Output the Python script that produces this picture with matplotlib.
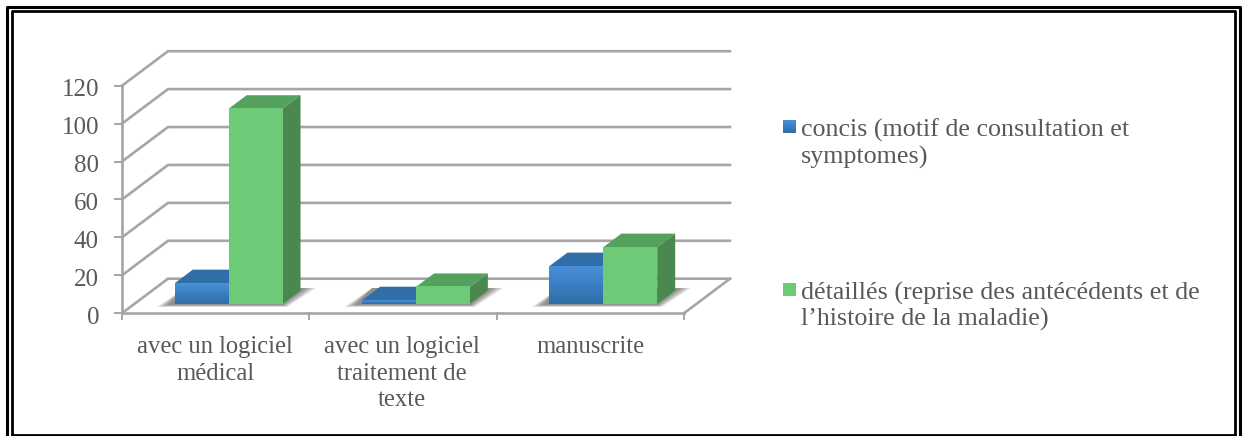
import numpy as np
import matplotlib
matplotlib.use("Agg")
import matplotlib.pyplot as plt
from matplotlib.patches import Polygon
from matplotlib.colors import LinearSegmentedColormap

categories = ["avec un logiciel\nmédical", "avec un logiciel\ntraitement de\ntexte", "manuscrite"]
series_names = ["concis (motif de consultation et\nsymptomes)",
                "détaillés (reprise des antécédents et de\nl’histoire de la maladie)"]
concis = [11, 2, 20]
detailles = [103, 9, 30]
y_ticks = [0, 20, 40, 60, 80, 100, 120]

W, H = 1245, 436
FONT = "Liberation Serif"
TEXT = "#595959"
GRID = "#a6a6a6"

fig = plt.figure(figsize=(W / 100, H / 100), dpi=100, facecolor="white")
page = fig.add_axes([0, 0, 1, 1])
page.set_xlim(0, W)
page.set_ylim(H, 0)
page.axis("off")

# double frame around the chart: the outer one runs off the bottom edge
page.plot([7, 7, 1240, 1240], [445, 7, 7, 445], color="black", lw=2.2, solid_joinstyle="round")
page.plot([11.5, 11.5, 1235, 1235], [435, 11.5, 11.5, 435], color="black", lw=2.0)
page.plot([11.5, 1235], [435, 435], color="black", lw=2.0)

# front plane of the plot box: x in categories, y in values
X0, X1, Y0, Y120 = 122, 684, 313.2, 85.7
ax = fig.add_axes([X0 / W, 1 - Y0 / H, (X1 - X0) / W, (Y0 - Y120) / H])
ax.set_xlim(0, 3)
ax.set_ylim(0, 120)
ax.axis("off")
ux = 3 / (X1 - X0)
uy = 120 / (Y0 - Y120)

# oblique depth, in pixels, converted to data units
def dx(px):
    return px * ux

def dy(px):
    return px * uy

BOX_DX, BOX_DY = 46, 34.5
BAR_DX, BAR_DY = 18, 13.5
BAR_W = 0.2875
SHIFT_X, SHIFT_Y = 13, 9.2

# gridlines on the side and back walls
for v in y_ticks:
    ax.plot([0, dx(BOX_DX), 3 + dx(BOX_DX)], [v, v + dy(BOX_DY), v + dy(BOX_DY)],
            color=GRID, lw=1.9, clip_on=False, solid_joinstyle="miter", zorder=1)
# floor and front axis
ax.plot([3, 3 + dx(BOX_DX)], [0, dy(BOX_DY)], color=GRID, lw=1.9, clip_on=False, zorder=1)
ax.plot([0, 3], [0, 0], color=GRID, lw=1.9, clip_on=False, zorder=1)
ax.plot([0, 0], [0, 120], color=GRID, lw=1.9, clip_on=False, zorder=1)
for v in y_ticks:
    ax.plot([-dx(7), 0], [v, v], color=GRID, lw=1.4, clip_on=False, zorder=1)
for i in range(4):
    ax.plot([i, i], [0, -dy(6)], color=GRID, lw=1.4, clip_on=False, zorder=1)

for v in y_ticks:
    ax.text(-dx(23), v - dy(4.5), str(v), ha="right", va="center", family=FONT,
            fontsize=18, color=TEXT, clip_on=False)
label_x = [215, 402, 590]
for i, c in enumerate(categories):
    ax.text((label_x[i] - X0) * ux, -dy(23), c, ha="center", va="top", family=FONT,
            fontsize=17.7, color=TEXT, linespacing=1.27, clip_on=False)


def soft_shadow(left, right):
    # blurred cast shadow on the floor, to the right of and behind the pair of bars
    base = dy(SHIFT_Y)
    for k in range(12):
        g = (11 - k) * 1.1
        pts = [(left - dx(6 + g), base - dy(3 - k * 0.2)),
               (right + dx(g * 0.4), base - dy(3 - k * 0.2)),
               (right + dx(22 + g), base + dy(16)),
               (left + dx(10), base + dy(16))]
        ax.add_patch(Polygon(pts, fc="#303030", ec="none", alpha=0.06, zorder=2, clip_on=False))


def draw_bar(left, value, top_col, side_col, cmap, z):
    x0, x1 = left, left + BAR_W
    b, t = dy(SHIFT_Y), dy(SHIFT_Y) + value
    ddx, ddy = dx(BAR_DX), dy(BAR_DY)
    ax.add_patch(Polygon([(x0, t), (x1, t), (x1 + ddx, t + ddy), (x0 + ddx, t + ddy)],
                         fc=top_col, ec="none", zorder=z, clip_on=False))
    ax.add_patch(Polygon([(x1, b), (x1 + ddx, b + ddy), (x1 + ddx, t + ddy), (x1, t)],
                         fc=side_col, ec="none", zorder=z, clip_on=False))
    img = ax.imshow(np.linspace(0, 1, 64)[:, None], extent=[x0, x1, b, t], origin="upper",
                    cmap=cmap, aspect="auto", zorder=z + 0.1, interpolation="bilinear")
    img.set_clip_on(False)


blue_map = LinearSegmentedColormap.from_list("b", ["#4a90d8", "#3a7fc2", "#2f6ea6"])
green_map = LinearSegmentedColormap.from_list("g", ["#6ecb78", "#6dcb77"])

for i in range(3):
    green_left = i + dx(SHIFT_X) + 0.5
    blue_left = green_left - BAR_W
    soft_shadow(blue_left, green_left + BAR_W)
    draw_bar(blue_left, concis[i], "#2f6ea6", "#2f6ea6", blue_map, 3)
    draw_bar(green_left, detailles[i], "#53a15d", "#4b884f", green_map, 4)
ax.set_xlim(0, 3)
ax.set_ylim(0, 120)

# legend keys and labels
for (ky, ty, name, cmap) in [(120, 119, series_names[0], blue_map),
                             (283, 282, series_names[1], green_map)]:
    page.imshow(np.linspace(0, 1, 32)[:, None], extent=[783, 796, ky + 13, ky],
                cmap=cmap, aspect="auto", zorder=3)
    page.text(801, ty, name, ha="left", va="top", family=FONT, fontsize=18.75,
              color=TEXT, linespacing=1.17)
page.set_xlim(0, W)
page.set_ylim(H, 0)

fig.savefig("out.png", dpi=100, facecolor="white")
